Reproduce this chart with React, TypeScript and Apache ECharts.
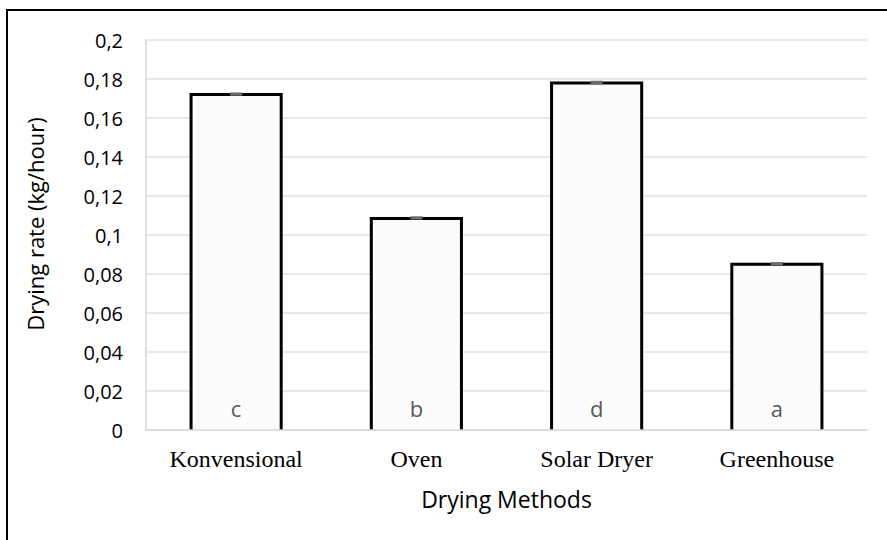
import React, { useEffect, useRef } from "react";
import * as echarts from "echarts";

const categories = ["Konvensional", "Oven", "Solar Dryer", "Greenhouse"];
const dryingRate = [0.172, 0.1085, 0.178, 0.085];
const errors = [0.0006, 0.0006, 0.0006, 0.0006];
const groupLetters = ["c", "b", "d", "a"];

const SANS = "'Open Sans', 'Noto Sans', sans-serif";
const SERIF = "'Liberation Serif', 'Times New Roman', serif";

export default function App() {
  const ref = useRef<HTMLDivElement>(null);
  useEffect(() => {
    if (!ref.current) return;
    const chart = echarts.init(ref.current, null, { renderer: "svg" });
    chart.setOption({
      animation: false,
      backgroundColor: "#ffffff",
      grid: { left: 146, right: 20, top: 40, bottom: 110, containLabel: false },
      graphic: [
        {
          type: "rect",
          shape: { x: 7, y: 10, width: 920, height: 600 },
          style: { fill: "none", stroke: "#000000", lineWidth: 2 },
          z: 100,
          silent: true,
        },
      ],
      xAxis: {
        type: "category",
        data: categories,
        name: "Drying Methods",
        nameLocation: "middle",
        nameGap: 57,
        nameTextStyle: { fontFamily: SANS, fontSize: 23, color: "#000" },
        axisLine: { show: true, lineStyle: { color: "#d9d9d9", width: 1.5 } },
        axisTick: { show: false },
        axisLabel: { fontFamily: SERIF, fontSize: 24, color: "#000", margin: 17 },
        z: 5,
      },
      yAxis: {
        type: "value",
        min: 0,
        max: 0.2,
        interval: 0.02,
        name: "Drying rate (kg/hour)",
        nameLocation: "middle",
        nameGap: 100,
        nameTextStyle: { fontFamily: SANS, fontSize: 22, color: "#000", padding: [0, 0, 0, 22] },
        axisLine: { show: true, lineStyle: { color: "#d9d9d9", width: 1.5 } },
        axisTick: { show: false },
        splitLine: { show: true, lineStyle: { color: "#e0e0e0", width: 1.5 } },
        axisLabel: {
          fontFamily: SANS,
          fontSize: 20,
          color: "#000",
          margin: 23,
          formatter: (v: number) => String(+v.toFixed(2)).replace(".", ","),
        },
      },
      series: [
        {
          type: "bar",
          data: dryingRate,
          barWidth: "50%",
          itemStyle: { color: "#fcfcfc" },
          label: {
            show: true,
            position: "insideBottom",
            distance: 11,
            formatter: (p: any) => groupLetters[p.dataIndex],
            fontFamily: SANS,
            fontSize: 22,
            color: "#595959",
          },
          z: 2,
        },
        {
          type: "custom",
          data: dryingRate.map((v, i) => [i, v, errors[i]]),
          z: 3,
          renderItem: (params: any, api: any) => {
            const i = api.value(0);
            const v = api.value(1);
            const e = api.value(2);
            const top = api.coord([i, v]);
            const base = api.coord([i, 0]);
            const half = api.size([1, 0])[0] * 0.25;
            const hi = api.coord([i, v + e]);
            const lo = api.coord([i, v - e]);
            return {
              type: "group",
              children: [
                {
                  type: "polyline",
                  shape: {
                    points: [
                      [top[0] - half, base[1]],
                      [top[0] - half, top[1]],
                      [top[0] + half, top[1]],
                      [top[0] + half, base[1]],
                    ],
                  },
                  style: { fill: "none", stroke: "#000", lineWidth: 3, lineJoin: "miter" },
                },
                {
                  type: "rect",
                  shape: { x: top[0] - 6, y: hi[1] - 1, width: 12, height: Math.max(lo[1] - hi[1], 1) + 1 },
                  style: { fill: "#6b6b6b" },
                },
              ],
            };
          },
        },
      ],
    });
    return () => chart.dispose();
  }, []);
  return (
    <div
      ref={ref}
      style={{ position: "absolute", left: 0, top: 0, width: 887, height: 540 }}
    />
  );
}
